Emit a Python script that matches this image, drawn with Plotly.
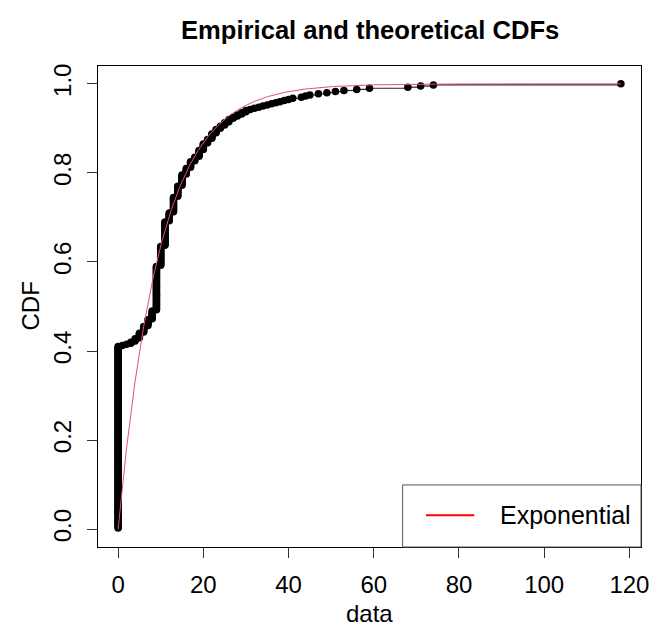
import numpy as np
import plotly.graph_objects as go

# ---- data ----
# distinct observed values and how many observations sit at each one
values = [0, 1, 2, 3, 4, 5, 6, 7, 8, 9, 10, 11, 12, 13, 14, 15, 16, 17, 18, 19,
          20, 21, 22, 23, 24, 25, 26, 27, 28, 29, 30, 31, 32, 33, 34, 35, 36, 37,
          38, 39, 40, 41, 43, 44, 45, 47, 49, 51, 53, 56, 59, 68, 71, 74, 118]
counts = [164, 1, 1, 2, 3, 5, 6, 6, 8, 40, 18, 22, 8, 14, 10, 10, 6, 6, 4, 6,
          6, 4, 5, 4, 3, 3, 3, 2, 2, 2, 2, 1, 1, 1, 1, 1, 1, 1,
          1, 1, 1, 1, 1, 1, 1, 1, 1, 1, 1, 1, 1, 1, 1, 1, 1]

x_ticks = [0, 20, 40, 60, 80, 100, 120]
y_ticks = [0.0, 0.2, 0.4, 0.6, 0.8, 1.0]
title_text = "Empirical and theoretical CDFs"
x_title = "data"
y_title = "CDF"
legend_label = "Exponential"

# ---- derived ----
data = np.repeat(np.array(values, dtype=float), counts)
data.sort()
n = len(data)
ecdf_y = np.arange(1, n + 1) / n

# exponential fit (MLE): rate = 1/mean
rate = 1.0 / data.mean()
xmin, xmax = data.min(), data.max()
xs = np.linspace(xmin, xmax, 1001)
theo = 1 - np.exp(-rate * xs)

# step (horizontal) segments of the ecdf at distinct values
ux = np.array(values, dtype=float)
uy = np.cumsum(counts) / n
seg_x, seg_y = [], []
for i in range(len(ux) - 1):
    seg_x += [ux[i], ux[i + 1], None]
    seg_y += [uy[i], uy[i], None]

FONT = "Liberation Sans, Arial, Helvetica, sans-serif"

fig = go.Figure()
fig.add_trace(go.Scatter(x=seg_x, y=seg_y, mode="lines",
                         line=dict(color="#222222", width=1.2),
                         showlegend=False, hoverinfo="skip"))
fig.add_trace(go.Scatter(x=data, y=ecdf_y, mode="markers",
                         marker=dict(color="black", size=7.5, line=dict(width=0)),
                         showlegend=False))
fig.add_trace(go.Scatter(x=xs, y=theo, mode="lines",
                         line=dict(color="#DF536B", width=1),
                         showlegend=False))

xr = [xmin - 0.04 * (xmax - xmin), xmax + 0.04 * (xmax - xmin)]
yr = [-0.04, 1.04]

axis_common = dict(showgrid=False, zeroline=False, showline=True, mirror=True,
                   linecolor="black", linewidth=1, ticks="outside", ticklen=10,
                   tickcolor="#333333", tickwidth=1,
                   tickfont=dict(family=FONT, size=24, color="black"))

fig.update_layout(
    width=663, height=627, autosize=False,
    margin=dict(l=98, r=22, t=66, b=80),
    paper_bgcolor="white", plot_bgcolor="white",
    xaxis=dict(range=xr, tickvals=x_ticks, ticklabelstandoff=6, **axis_common),
    yaxis=dict(range=yr, tickvals=y_ticks, tickformat=".1f", tickangle=-90,
               ticklabelstandoff=6, **axis_common),
    showlegend=False,
)

# title and axis titles
fig.add_annotation(text="<b>%s</b>" % title_text, xref="x domain", yref="y domain",
                   x=0.5, y=1, yshift=36, showarrow=False, yanchor="middle",
                   font=dict(family=FONT, size=25.6, color="black"))
fig.add_annotation(text=x_title, xref="x domain", yref="y domain",
                   x=0.5, y=0, yshift=-66, showarrow=False, yanchor="middle",
                   font=dict(family=FONT, size=24, color="black"))
fig.add_annotation(text=y_title, xref="x domain", yref="y domain",
                   x=0, y=0.5, xshift=-68, showarrow=False, xanchor="center",
                   textangle=-90, font=dict(family=FONT, size=24, color="black"))

# legend box (R-style, bottom right)
fig.add_shape(type="rect", xref="x domain", yref="y domain",
              x0=0.561, x1=1.0, y0=0.0, y1=0.129,
              line=dict(color="#555555", width=1), fillcolor="white", layer="above")
fig.add_shape(type="line", xref="x domain", yref="y domain",
              x0=0.604, x1=0.693, y0=0.066, y1=0.066,
              line=dict(color="red", width=2), layer="above")
fig.add_annotation(text=legend_label, xref="x domain", yref="y domain",
                   x=0.736, y=0.066, xanchor="left", yanchor="middle", showarrow=False,
                   font=dict(family=FONT, size=25, color="black"))

fig.write_html("out.html", config={"displayModeBar": False})

# remove the browser's default body margin so the figure fills the window exactly
with open("out.html", "r", encoding="utf-8") as f:
    html = f.read()
html = html.replace("<head>", "<head><style>html,body{margin:0;padding:0;overflow:hidden;}</style>", 1)
with open("out.html", "w", encoding="utf-8") as f:
    f.write(html)
